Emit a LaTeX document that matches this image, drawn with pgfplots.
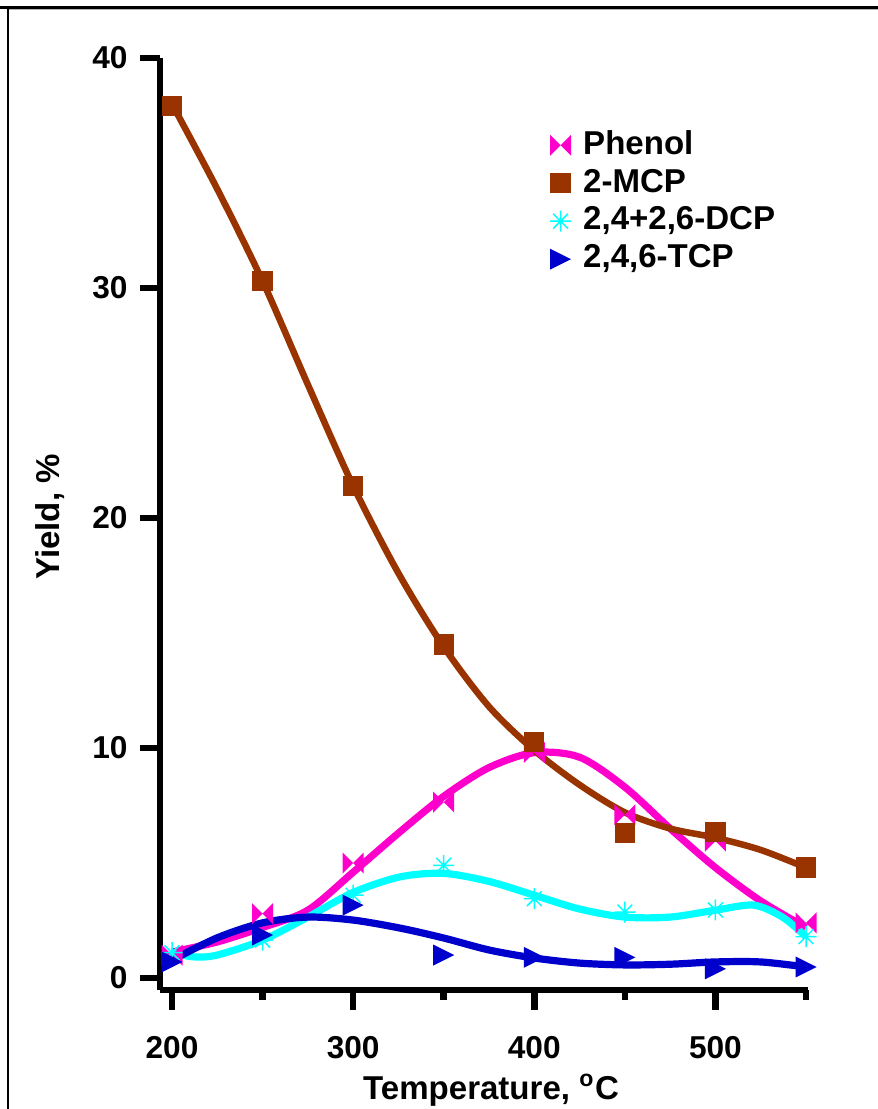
\documentclass[border=0pt]{standalone}
\usepackage{pgfplots}
\pgfplotsset{compat=1.18}
\usepackage{fontspec}
\setmainfont{Liberation Sans}

\definecolor{cPhen}{RGB}{255,0,204}
\definecolor{cMCP}{RGB}{153,51,0}
\definecolor{cDCP}{RGB}{0,255,255}
\definecolor{cTCP}{RGB}{0,0,204}

\pgfdeclareplotmark{bowtie}{%
  \pgfpathmoveto{\pgfqpoint{-\pgfplotmarksize}{\pgfplotmarksize}}%
  \pgfpathlineto{\pgfqpoint{0pt}{0pt}}%
  \pgfpathlineto{\pgfqpoint{-\pgfplotmarksize}{-\pgfplotmarksize}}%
  \pgfpathclose
  \pgfpathmoveto{\pgfqpoint{\pgfplotmarksize}{\pgfplotmarksize}}%
  \pgfpathlineto{\pgfqpoint{0pt}{0pt}}%
  \pgfpathlineto{\pgfqpoint{\pgfplotmarksize}{-\pgfplotmarksize}}%
  \pgfpathclose
  \pgfusepathqfill}
\pgfdeclareplotmark{rtri}{%
  \pgfpathmoveto{\pgfqpoint{-\pgfplotmarksize}{\pgfplotmarksize}}%
  \pgfpathlineto{\pgfqpoint{\pgfplotmarksize}{0pt}}%
  \pgfpathlineto{\pgfqpoint{-\pgfplotmarksize}{-\pgfplotmarksize}}%
  \pgfpathclose
  \pgfusepathqfill}
\pgfdeclareplotmark{astA}{%
  \pgfpathmoveto{\pgfqpoint{-\pgfplotmarksize}{0pt}}\pgfpathlineto{\pgfqpoint{\pgfplotmarksize}{0pt}}%
  \pgfpathmoveto{\pgfqpoint{0pt}{-\pgfplotmarksize}}\pgfpathlineto{\pgfqpoint{0pt}{\pgfplotmarksize}}%
  \pgfpathmoveto{\pgfqpoint{-0.707\pgfplotmarksize}{-0.707\pgfplotmarksize}}\pgfpathlineto{\pgfqpoint{0.707\pgfplotmarksize}{0.707\pgfplotmarksize}}%
  \pgfpathmoveto{\pgfqpoint{-0.707\pgfplotmarksize}{0.707\pgfplotmarksize}}\pgfpathlineto{\pgfqpoint{0.707\pgfplotmarksize}{-0.707\pgfplotmarksize}}%
  \pgfusepathqstroke}

\pgfplotsset{lgd/.style={legend image code/.code={\draw[##1] plot coordinates {(0mm,0mm)};}}}

\begin{document}
\begin{tikzpicture}
\path[use as bounding box] (-16mm,-11.9mm) rectangle (71.7mm,99.0mm);
\draw[line width=0.22mm] (-15.2mm,-12mm) -- (-15.2mm,98.25mm);
\draw[line width=0.25mm] (-16mm,98.25mm) -- (71.8mm,98.25mm);
\draw[line width=0.1mm, gray!60] (-15.1mm,98.05mm) -- (71.8mm,98.05mm);
\begin{axis}[
  scale only axis, width=64.8mm, height=93.2mm,
  xmin=193.37, xmax=551.1, ymin=-0.52, ymax=40,
  axis lines=left,
  axis line style={-, line width=0.65mm, black},
  xtick={200,300,400,500}, minor xtick={250,350,450,550},
  ytick={0,10,20,30,40},
  tick align=outside, major tick length=2mm, minor tick length=1mm,
  every tick/.style={line width=0.65mm, black},
  /pgf/number format/assume math mode=true,
  ticklabel style={font=\fontsize{9.0}{10}\selectfont\bfseries},
  xticklabel style={yshift=-1.4mm},
  xlabel={Temperature, \textsuperscript{o}C},
  ylabel={Yield, \%},
  label style={font=\fontsize{9.4}{11}\selectfont\bfseries},
  xlabel style={at={(axis description cs:0.511,-0.118)}, anchor=base},
  ylabel style={at={(axis description cs:-0.170,0.5075)}, anchor=center},
  clip=false,
  legend style={draw=none, fill=none, at={(axis description cs:0.5846,0.935)}, anchor=north west,
    font=\fontsize{9.4}{11}\selectfont\bfseries,
    nodes={inner sep=0.9pt, text height=7pt, text depth=2pt},
    column sep=0.9mm},
  legend cell align=left,
]
% fitted curves
\addplot[cPhen, line width=0.72mm, smooth, forget plot] coordinates {
(200,1.13) (225,1.57) (250,2.2) (275,2.95) (300,4.6) (325,6.3) (350,7.9) (375,9.15)
(400,9.8) (425,9.6) (450,8.3) (475,6.5) (500,4.8) (525,3.35) (550,2.2)};
\addplot[cMCP, line width=0.65mm, smooth, forget plot] coordinates {
(200,38.0) (225,34.3) (250,30.3) (275,25.8) (300,21.4) (325,17.6) (350,14.4) (375,11.8)
(400,9.9) (425,8.4) (450,7.2) (475,6.5) (500,6.1) (525,5.57) (550,4.8)};
\addplot[cDCP, line width=0.72mm, smooth, forget plot] coordinates {
(200,1.1) (212,0.92) (225,1.0) (250,1.65) (275,2.65) (300,3.72) (326,4.4) (350,4.55)
(375,4.2) (400,3.6) (425,3.0) (450,2.65) (475,2.65) (500,2.95) (521,3.17) (537,2.65) (550,1.8)};
\addplot[cTCP, line width=0.72mm, smooth, forget plot] coordinates {
(200,0.78) (225,1.75) (250,2.4) (275,2.65) (300,2.52) (326,2.17) (350,1.74) (375,1.22)
(400,0.87) (425,0.65) (450,0.57) (475,0.6) (500,0.7) (525,0.7) (550,0.48)};
% data points
\addplot[only marks, mark=bowtie, mark size=1.05mm, color=cPhen, lgd] coordinates {
(200,1.0) (250,2.8) (300,5.0) (350,7.65) (400,9.8) (450,7.1) (500,5.95) (550,2.4)};
\addplot[only marks, mark=square*, mark size=0.95mm, color=cMCP, lgd] coordinates {
(200,37.9) (250,30.3) (300,21.4) (350,14.5) (400,10.25) (450,6.3) (500,6.35) (550,4.8)};
\addplot[only marks, mark=astA, mark size=1.05mm, color=cDCP, line width=0.15mm, lgd] coordinates {
(200,1.1) (250,1.65) (300,3.6) (350,4.9) (400,3.45) (450,2.87) (500,2.96) (550,1.8)};
\addplot[only marks, mark=rtri, mark size=1.05mm, color=cTCP, lgd] coordinates {
(200,0.7) (250,1.87) (300,3.17) (350,1.0) (400,0.9) (450,0.9) (500,0.4) (550,0.48)};
\legend{Phenol, 2-MCP, {2,4+2,6-DCP}, {2,4,6-TCP}}
\end{axis}
\end{tikzpicture}
\end{document}
